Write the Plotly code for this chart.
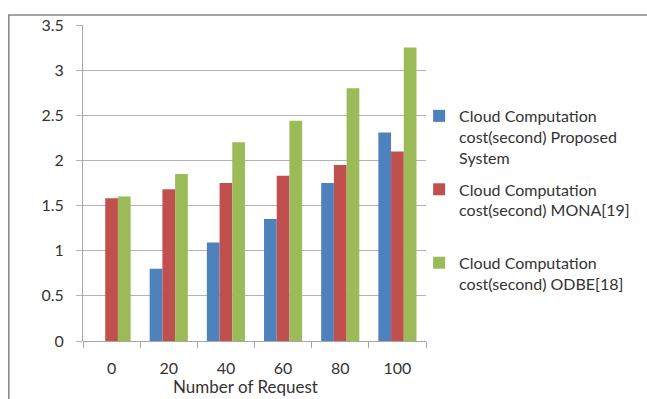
import plotly.graph_objects as go

categories = ["0", "20", "40", "60", "80", "100"]
proposed = [0, 0.80, 1.09, 1.35, 1.75, 2.31]
mona = [1.58, 1.68, 1.75, 1.83, 1.95, 2.10]
odbe = [1.60, 1.85, 2.20, 2.44, 2.80, 3.25]
names = [
    "Cloud Computation<br>cost(second) Proposed<br>System",
    "Cloud Computation<br>cost(second) MONA[19]<br> ",
    "Cloud Computation<br>cost(second) ODBE[18]",
]
colors = ["#4F81BD", "#C0504D", "#9BBB59"]

FONT = "Lato"
W, H = 647, 399
L, R, T, B = 83, 432, 25, 341

fig = go.Figure()
for i, (vals, nm, c) in enumerate(zip([proposed, mona, odbe], names, colors)):
    fig.add_trace(go.Bar(x=categories, y=vals, name=nm, marker_color=c,
                         marker_line_width=0, legendgroup=f"g{i}"))

pw, ph = R - L, B - T
def px(x): return (x - L) / pw
def py(y): return (B - y) / ph

fig.update_layout(
    width=W, height=H,
    margin=dict(l=L, r=W - R, t=T, b=H - B, pad=0),
    paper_bgcolor="white", plot_bgcolor="white",
    barmode="group", bargap=0.333, bargroupgap=0,
    font=dict(family=FONT, size=16, color="#333333"),
    legend=dict(x=px(425), y=py(99), xanchor="left", yanchor="top",
                valign="top", tracegroupgap=8,
                font=dict(family=FONT, size=16, color="#333333"),
                bgcolor="rgba(0,0,0,0)"),
    xaxis=dict(type="category", showgrid=False, ticks="outside",
               tickson="boundaries", ticklen=6, tickcolor="#a6a6a6",
               showline=False, tickfont=dict(size=16),
               ticklabelstandoff=16),
    yaxis=dict(range=[0, 3.5], dtick=0.5, showgrid=True, gridcolor="#b3b3b3",
               gridwidth=1, zeroline=True, zerolinecolor="#a6a6a6",
               zerolinewidth=1, showline=True, linecolor="#a6a6a6",
               ticks="outside", ticklen=6, tickcolor="#b3b3b3",
               tickfont=dict(size=16), ticklabelstandoff=9),
    shapes=[dict(type="rect", xref="paper", yref="paper",
                 x0=px(7.5), x1=px(700), y0=py(450), y1=py(15),
                 line=dict(color="#868686", width=1.5), layer="below")],
    annotations=[dict(text="Number of Request", xref="paper", yref="paper",
                      x=px(248), y=py(399), xanchor="center", yanchor="bottom",
                      showarrow=False, font=dict(family=FONT, size=17, color="#333333"))],
)

fig.write_html("out.html")
